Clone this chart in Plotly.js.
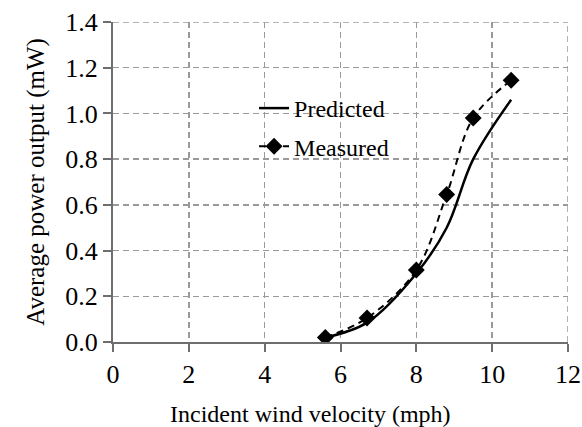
<!DOCTYPE html>
<html>
<head>
<meta charset="utf-8">
<script src="https://cdn.plot.ly/plotly-3.0.1.min.js"></script>
<style>html,body{margin:0;padding:0;background:#fff;}#chart{width:582px;height:427px;}</style>
</head>
<body>
<div id="chart"></div>
<script>
const velocity = [5.6, 6.7, 8.0, 8.8, 9.5, 10.5];
const predicted = [0.02, 0.085, 0.30, 0.50, 0.80, 1.06];
const measured = [0.02, 0.105, 0.315, 0.645, 0.98, 1.145];
const xTicks = [0, 2, 4, 6, 8, 10, 12];
const yTicks = [0.0, 0.2, 0.4, 0.6, 0.8, 1.0, 1.2, 1.4];

const font = '"Liberation Serif", "Times New Roman", serif';

const traces = [
  {x: velocity, y: predicted, name: 'Predicted', mode: 'lines', legendgroup: 'a',
   line: {color: '#000', width: 2.5, shape: 'spline'}},
  {x: velocity, y: measured, name: 'Measured', mode: 'lines+markers', legendgroup: 'b',
   line: {color: '#000', width: 2, dash: '7px,5px', shape: 'spline'},
   marker: {symbol: 'diamond', size: 13, color: '#000'}}
];

const gridStyle = {color: '#9a9a9a', width: 1.5, dash: '6px,4px'};

const layout = {
  width: 582, height: 427,
  margin: {l: 113, r: 14, t: 22, b: 85},
  paper_bgcolor: '#fff', plot_bgcolor: '#fff',
  font: {family: font, size: 24, color: '#000'},
  showlegend: true,
  legend: {x: 0.31, y: 0.8, xanchor: 'left', yanchor: 'top', bgcolor: 'rgba(0,0,0,0)',
           font: {family: font, size: 24}, traceorder: 'grouped', tracegroupgap: 4},
  xaxis: {
    range: [0, 12], tickvals: xTicks, ticktext: xTicks.map(String),
    tickfont: {family: font, size: 26},
    showgrid: true, gridcolor: '#9a9a9a', gridwidth: 1.5, griddash: '6px,4px',
    zeroline: false, showline: true, linecolor: '#6e6e6e', linewidth: 2,
    ticks: 'outside', ticklen: 8, tickwidth: 2, tickcolor: '#6e6e6e',
    fixedrange: true
  },
  yaxis: {
    range: [0, 1.4], tickvals: yTicks, ticktext: yTicks.map(v => v.toFixed(1)),
    tickfont: {family: font, size: 26},
    showgrid: true, gridcolor: '#9a9a9a', gridwidth: 1.5, griddash: '6px,4px',
    zeroline: false, showline: true, linecolor: '#6e6e6e', linewidth: 2,
    ticks: 'outside', ticklen: 8, tickwidth: 2, tickcolor: '#6e6e6e',
    title: {text: 'Average power output (mW)', font: {family: font, size: 25}, standoff: 14},
    fixedrange: true
  },
  annotations: [
    {text: 'Incident wind velocity (mph)', xref: 'paper', yref: 'paper', x: 0.433, y: -0.224,
     xanchor: 'center', yanchor: 'middle', showarrow: false, font: {family: font, size: 24}}
  ],
  shapes: [
    {type: 'line', xref: 'x', yref: 'paper', x0: 12, x1: 12, y0: 0, y1: 1, line: gridStyle, layer: 'below'},
    {type: 'line', xref: 'paper', yref: 'y', x0: 0, x1: 1, y0: 1.4, y1: 1.4, line: gridStyle, layer: 'below'}
  ]
};

Plotly.newPlot('chart', traces, layout, {displayModeBar: false, staticPlot: true});
</script>
</body>
</html>
